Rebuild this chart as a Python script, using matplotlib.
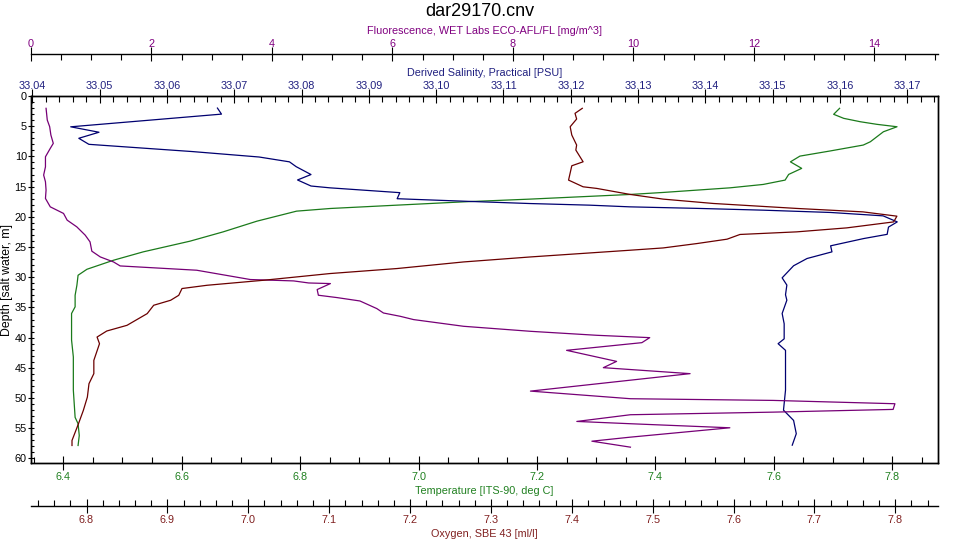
import matplotlib
matplotlib.use("Agg")
import matplotlib.pyplot as plt
from matplotlib.ticker import MultipleLocator, FormatStrFormatter

plt.rcParams['font.family'] = ['Liberation Sans', 'DejaVu Sans']

# profile data (depth in m)
sal_depth = [2.0, 3.0, 5.1, 6.0, 7.0, 8.0, 9.2, 10.1, 10.9, 11.7, 13.0, 13.9, 14.9, 15.2, 16.0, 17.0,
             17.1, 17.45, 17.8, 18.07, 18.35, 18.6, 18.9, 19.28, 19.84, 20.84, 21.7, 22.9, 23.6, 24.8,
             25.8, 26.9, 28.1, 30.1, 31.3, 32.9, 33.8, 36.0, 37.7, 40.2, 41.0, 42.1, 48.7, 52.0, 53.7,
             55.9, 57.8]
salinity = [33.0675, 33.0681, 33.0457, 33.0499, 33.0469, 33.0484, 33.0638, 33.0737, 33.0782, 33.0792,
            33.0814, 33.0794, 33.0814, 33.0842, 33.0946, 33.0942, 33.0965, 33.1050, 33.1139, 33.1228,
            33.1288, 33.1387, 33.1486, 33.1586, 33.1664, 33.1685, 33.1672, 33.1670, 33.1635, 33.1586,
            33.1588, 33.1551, 33.1531, 33.1514, 33.1521, 33.1519, 33.1521, 33.1514, 33.1517, 33.1517,
            33.1508, 33.1519, 33.1519, 33.1516, 33.1531, 33.1535, 33.1529]

temp_depth = [2.04, 3.03, 3.70, 4.26, 4.69, 5.09, 5.92, 7.57, 8.12, 9.1, 9.95, 10.9, 11.98, 12.98, 13.92,
              14.64, 15.2, 15.96, 16.3, 17.07, 17.52, 18.07, 18.62, 19.06, 20.72, 22.49, 24.03, 25.8,
              27.18, 28.68, 29.67, 31.33, 32.99, 34.9, 36.0, 40.4, 43.2, 48.7, 53.2, 54.25, 56.2, 57.85]
temperature = [7.711, 7.701, 7.718, 7.746, 7.774, 7.808, 7.785, 7.763, 7.751, 7.695, 7.644, 7.628, 7.647,
               7.625, 7.619, 7.582, 7.526, 7.414, 7.357, 7.188, 7.076, 6.963, 6.851, 6.794, 6.727, 6.670,
               6.614, 6.535, 6.485, 6.440, 6.425, 6.423, 6.420, 6.420, 6.414, 6.414, 6.417, 6.417, 6.420,
               6.425, 6.427, 6.425]

oxy_depth = [2.04, 2.87, 3.81, 5.09, 6.46, 8.12, 8.95, 10.89, 11.55, 13.92, 15.03, 15.3, 16.29, 17.07,
             17.79, 18.61, 19.18, 19.89, 20.84, 21.83, 22.49, 22.92, 23.7, 24.42, 25.15, 25.53, 26.64,
             27.47, 28.56, 29.39, 30.5, 31.33, 31.87, 32.99, 33.81, 34.64, 36.02, 37.96, 38.9, 39.9,
             41.0, 43.76, 45.96, 47.62, 49.84, 52.05, 54.25, 57.02, 57.85]
oxygen = [7.413, 7.404, 7.406, 7.398, 7.400, 7.406, 7.405, 7.414, 7.400, 7.396, 7.414, 7.431, 7.472,
          7.513, 7.575, 7.678, 7.760, 7.802, 7.798, 7.740, 7.678, 7.608, 7.592, 7.555, 7.513, 7.472,
          7.349, 7.266, 7.184, 7.101, 7.019, 6.949, 6.918, 6.914, 6.904, 6.883, 6.875, 6.850, 6.825,
          6.813, 6.816, 6.809, 6.809, 6.803, 6.801, 6.796, 6.790, 6.782, 6.782]

fluor_depth = [2.04, 3.98, 5.09, 6.46, 7.84, 8.67, 10.06, 11.72, 13.09, 14.2, 15.58, 16.96, 18.35, 19.44,
               20.55, 21.66, 23.04, 24.15, 25.69, 26.64, 27.47, 28.13, 28.84, 30.38, 30.61, 30.95, 31.05,
               32.04, 32.98, 33.37, 33.93, 35.19, 35.92, 36.47, 37.01, 38.12, 38.95, 39.61, 40.0, 40.83,
               42.1, 43.93, 44.97, 45.96, 48.85, 50.11, 50.39, 50.94, 51.88, 52.33, 52.76, 53.87, 54.25,
               54.92, 56.47, 57.14, 58.13]
fluorescence = [0.25, 0.27, 0.31, 0.33, 0.37, 0.32, 0.24, 0.24, 0.21, 0.24, 0.25, 0.24, 0.32, 0.54, 0.60,
                0.76, 0.90, 0.98, 1.01, 1.15, 1.37, 1.48, 2.75, 3.64, 4.36, 4.61, 4.97, 4.75, 4.77, 5.08,
                5.46, 5.74, 5.85, 6.13, 6.35, 7.18, 8.29, 9.39, 10.27, 10.14, 8.89, 9.72, 9.50, 10.94,
                8.29, 9.95, 12.32, 14.34, 14.31, 12.32, 9.95, 9.06, 9.95, 11.60, 9.95, 9.31, 9.95]

c_temp, c_sal, c_oxy, c_fl = '#1b7a1b', '#000070', '#6a0000', '#760076'
t_temp, t_sal, t_oxy, t_fl = '#208020', '#202080', '#802020', '#800080'
fs = 7.8

fig = plt.figure(figsize=(9.6, 5.4), dpi=100)
ax = fig.add_axes([31 / 960, 1 - 463.3 / 540, 907.3 / 960, 367.3 / 540])
ax_sal = ax.twiny()
ax_fl = ax.twiny()
ax_oxy = ax.twiny()

ax.plot(temperature, temp_depth, color=c_temp, lw=0.9)
ax_sal.plot(salinity, sal_depth, color=c_sal, lw=0.9)
ax_oxy.plot(oxygen, oxy_depth, color=c_oxy, lw=0.9)
ax_fl.plot(fluorescence, fluor_depth, color=c_fl, lw=0.9)

ax.set_ylim(60.8, 0)
ax.set_xlim(6.3455, 7.8777)
ax_sal.set_xlim(33.0398, 33.1746)
ax_fl.set_xlim(0, 15.06)
ax_oxy.set_xlim(6.7313, 7.8532)

# depth axis
ax.yaxis.set_major_locator(MultipleLocator(5))
ax.yaxis.set_minor_locator(MultipleLocator(1))
ax.tick_params(axis='y', which='major', direction='inout', length=4, width=0.8, labelsize=fs, pad=1)
ax.tick_params(axis='y', which='minor', direction='in', length=2.5, width=0.8)
ax.set_ylabel('Depth [salt water, m]', fontsize=fs + 1, labelpad=1)

# temperature (bottom)
ax.xaxis.set_major_locator(MultipleLocator(0.2))
ax.xaxis.set_minor_locator(MultipleLocator(0.05))
ax.xaxis.set_major_formatter(FormatStrFormatter('%.1f'))
ax.set_xlabel('Temperature [ITS-90, deg C]', color=t_temp, fontsize=fs, labelpad=3)

# salinity (top)
ax_sal.xaxis.set_major_locator(MultipleLocator(0.01))
ax_sal.xaxis.set_minor_locator(MultipleLocator(0.002))
ax_sal.xaxis.set_major_formatter(FormatStrFormatter('%.2f'))
ax_sal.set_xlabel('Derived Salinity, Practical [PSU]', color=t_sal, fontsize=fs, labelpad=3.5)

# fluorescence (top, outward)
ax_fl.spines['top'].set_position(('outward', 30.2))
ax_fl.xaxis.set_major_locator(MultipleLocator(2))
ax_fl.xaxis.set_minor_locator(MultipleLocator(0.5))
ax_fl.set_xlabel('Fluorescence, WET Labs ECO-AFL/FL [mg/m^3]', color=t_fl, fontsize=fs, labelpad=4)

# oxygen (bottom, outward)
ax_oxy.xaxis.tick_bottom()
ax_oxy.xaxis.set_label_position('bottom')
ax_oxy.spines['bottom'].set_position(('outward', 30.5))
ax_oxy.xaxis.set_major_locator(MultipleLocator(0.1))
ax_oxy.xaxis.set_minor_locator(MultipleLocator(0.02))
ax_oxy.xaxis.set_major_formatter(FormatStrFormatter('%.1f'))
ax_oxy.set_xlabel('Oxygen, SBE 43 [ml/l]', color=t_oxy, fontsize=fs, labelpad=3)

for a, col, pad in [(ax, t_temp, 1.5), (ax_sal, t_sal, -1.5), (ax_fl, t_fl, -1.5), (ax_oxy, t_oxy, 1.5)]:
    a.tick_params(axis='x', which='major', direction='inout', length=10, width=0.8,
                  labelcolor=col, labelsize=fs, pad=pad)
    a.tick_params(axis='x', which='minor', direction='in', length=4.3, width=0.8)

for sp in ['left', 'right', 'bottom']:
    ax_fl.spines[sp].set_visible(False)
for sp in ['left', 'right', 'top']:
    ax_oxy.spines[sp].set_visible(False)
for a in [ax, ax_sal, ax_fl, ax_oxy]:
    for sp in a.spines.values():
        sp.set_linewidth(1.0)

fig.text(0.5, 1 - 12 / 540, 'dar29170.cnv', ha='center', va='center', fontsize=13)

fig.savefig('out.png', dpi=100)
